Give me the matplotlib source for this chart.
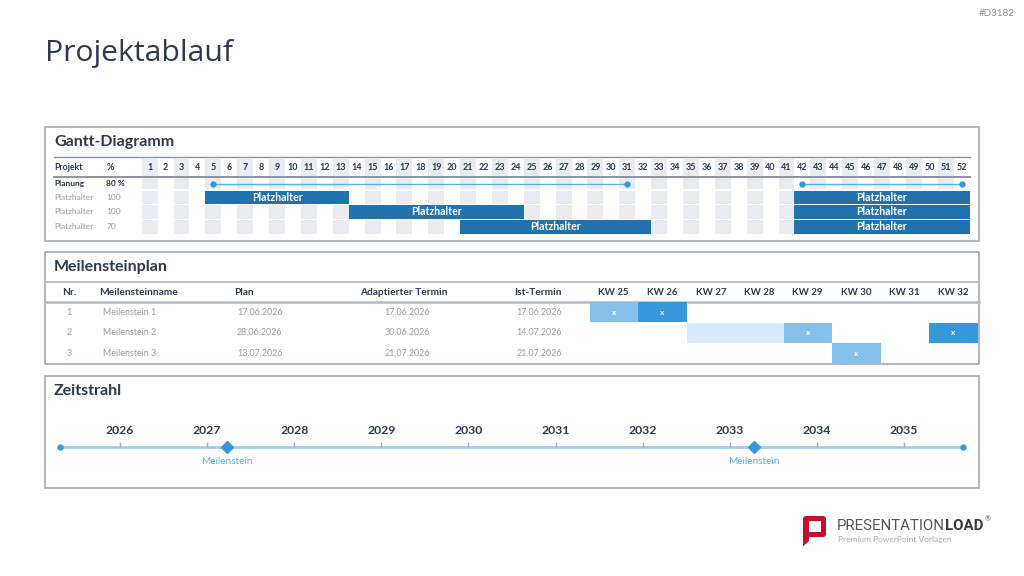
import matplotlib
matplotlib.use('Agg')
import matplotlib.pyplot as plt
from matplotlib.patches import Rectangle, FancyBboxPatch, Polygon

W, H = 1024, 576
plt.rcParams['font.family'] = ['Lato', 'DejaVu Sans']

# ---------------- data ----------------
weeks = list(range(1, 53))
gantt_names = ['Planung', 'Platzhalter', 'Platzhalter', 'Platzhalter']
gantt_pct = ['80 %', '100', '100', '70']
planung_start = [5, 42]
planung_end = [31, 52]
task_start = [[5, 42], [14, 42], [21, 42]]
task_end = [[13, 52], [24, 52], [32, 52]]
task_label = 'Platzhalter'

ms_nr = ['1', '2', '3']
ms_name = ['Meilenstein 1', 'Meilenstein 2', 'Meilenstein 3']
ms_plan = ['17.06.2026', '28.06.2026', '13.07.2026']
ms_adapt = ['17.06.2026', '30.06.2026', '21.07.2026']
ms_ist = ['17.06.2026', '14.07.2026', '21.07.2026']
kw_weeks = [25, 26, 27, 28, 29, 30, 31, 32]
cell_row = [0, 0, 1, 1, 1, 1, 2]
cell_kw = [25, 26, 27, 28, 29, 32, 30]
cell_level = ['light', 'dark', 'pale', 'pale', 'light', 'dark', 'light']

years = list(range(2026, 2036))
timeline_start = 2025.31
timeline_end = 2035.68
milestone_years = [2027.23, 2033.28]
milestone_label = 'Meilenstein'

# ---------------- style ----------------
DARK = '#2b3b4f'
GRAY = '#9a9a9a'
BORDER = '#a3aab5'
SHADE = '#e9edf2'
BAR = '#2272ae'
LBLUE = '#5dade2'
MBLUE = '#3498db'
CELL = {'light': '#85c1e9', 'dark': '#3498db', 'pale': '#d6eaf8'}
TL = '#9fcdee'

fig = plt.figure(figsize=(W / 100, H / 100), dpi=100)
bg = fig.add_axes([0, 0, 1, 1])
bg.set_xlim(0, W)
bg.set_ylim(H, 0)
bg.axis('off')


def px_axes(x0, y0, x1, y1):
    ax = fig.add_axes([x0 / W, 1 - y1 / H, (x1 - x0) / W, (y1 - y0) / H])
    ax.axis('off')
    return ax


bg.text(45, 54, 'Projektablauf', fontsize=21.7, color=DARK, va='center',
        family=['Open Sans', 'DejaVu Sans'])
bg.text(1015, 13, '#D3182', fontsize=7, color='#8a8a8a', ha='right', va='center')

for (y0, y1, title) in [(127, 241, 'Gantt-Diagramm'), (252, 364, 'Meilensteinplan'),
                        (376, 488, 'Zeitstrahl')]:
    bg.add_patch(Rectangle((45, y0), 934, y1 - y0, fc='white', ec=BORDER, lw=1.2, zorder=0))
    bg.text(54, y0 + 15, title, fontsize=11.5, weight='bold', color=DARK, va='center')

# ---------------- Gantt ----------------
gx = px_axes(45, 127, 979, 241)
gx.set_xlim(1 + (45 - 149.66) / 15.92, 1 + (979 - 149.66) / 15.92)
gx.set_ylim(241, 127)
bands = [(158, 175.5), (178, 189), (190.5, 204), (205, 218.5), (219.5, 233.5)]
for w in weeks:
    if w % 2 == 1:
        for (t, b) in bands:
            gx.add_patch(Rectangle((w - 0.5, t), 1, b - t, fc=SHADE, ec='none', zorder=1))
    gx.text(w, 167.5, str(w), ha='center', va='center', fontsize=6.5, weight='bold',
            color=DARK, zorder=3)
bg.plot([54, 970], [156.5, 156.5], color='#8d939c', lw=1.0)
bg.plot([54, 970], [176.8, 176.8], color='#8d939c', lw=1.4)
bg.text(54, 167.5, 'Projekt', fontsize=6.3, weight='bold', color=DARK, va='center')
bg.text(106.5, 167.5, '%', fontsize=6.3, weight='bold', color=DARK, va='center')
row_centers = [(t + b) / 2 for (t, b) in bands[1:]]
for i, (nm, pc) in enumerate(zip(gantt_names, gantt_pct)):
    col = DARK if i == 0 else GRAY
    wt = 'bold' if i == 0 else 'normal'
    bg.text(54, row_centers[i], nm, fontsize=6.0, color=col, weight=wt, va='center')
    bg.text(106.5, row_centers[i], pc, fontsize=6.0, color=col, weight=wt, va='center')

for s, e in zip(planung_start, planung_end):
    gx.plot([s, e], [row_centers[0]] * 2, color=LBLUE, lw=1.0, zorder=4)
    gx.plot([s, e], [row_centers[0]] * 2, 'o', ms=3.5, color=MBLUE, zorder=5)

for r, (starts, ends) in enumerate(zip(task_start, task_end)):
    t, b = bands[r + 2]
    for s, e in zip(starts, ends):
        gx.add_patch(Rectangle((s - 0.5, t), e - s + 1, b - t, fc=BAR, ec='none', zorder=4))
        gx.text((s + e) / 2, (t + b) / 2, task_label, ha='center', va='center',
                fontsize=7.6, weight='bold', color='white', zorder=5)

# ---------------- Meilensteinplan ----------------
bg.plot([45, 979], [281.7, 281.7], color='#b3b9c2', lw=1.2)
bg.plot([45, 979], [301.7, 301.7], color='#b3b9c2', lw=1.8)
tx = px_axes(45, 302, 979, 363.5)
tx.set_xlim(45, 979)
tx.set_ylim(3, 0)
hy = -0.47
hdr = [(69, 'Nr.', 'center'), (99, 'Meilensteinname', 'left'), (234, 'Plan', 'left'),
       (404, 'Adaptierter Termin', 'center'), (538, 'Ist-Termin', 'center')]
for x, s, ha in hdr:
    tx.text(x, hy, s, ha=ha, va='center', fontsize=7.3, weight='bold', color=DARK, clip_on=False)
for i in range(len(ms_nr)):
    y = i + 0.5
    kw = dict(va='center', fontsize=6.4, color=GRAY)
    tx.text(69, y, ms_nr[i], ha='center', **kw)
    tx.text(103, y, ms_name[i], ha='left', **kw)
    tx.text(237, y, ms_plan[i], ha='left', **kw)
    tx.text(407, y, ms_adapt[i], ha='center', **kw)
    tx.text(539, y, ms_ist[i], ha='center', **kw)

kx = px_axes(589.5, 302, 977.5, 363.5)
kx.set_xlim(24.5, 32.5)
kx.set_ylim(3, 0)
for k in kw_weeks:
    kx.text(k, hy, f'KW {k}', ha='center', va='center', fontsize=7.0, weight='bold',
            color=DARK, clip_on=False)
for r, k, lv in zip(cell_row, cell_kw, cell_level):
    kx.add_patch(Rectangle((k - 0.5, r + 0.02), 1, 0.96, fc=CELL[lv], ec='none', lw=0))
    if lv != 'pale':
        kx.text(k, r + 0.5, 'x', ha='center', va='center', fontsize=6, weight='bold',
                color='white')

# ---------------- Zeitstrahl ----------------
zx = px_axes(45, 376, 979, 488)
zx.set_xlim(2026 + (45 - 120) / 87.1, 2026 + (979 - 120) / 87.1)
zx.set_ylim(488, 376)
zx.plot([timeline_start, timeline_end], [447.3, 447.3], color=TL, lw=2, zorder=2)
zx.plot([timeline_start, timeline_end], [447.3, 447.3], 'o', ms=3.5, color=MBLUE, zorder=3)
zx.vlines(years, 442.3, 447.3, color='#7fb9e3', lw=1.0, zorder=2)
for yr in years:
    zx.text(yr, 431, str(yr), ha='center', va='center', fontsize=8.8, weight='bold', color=DARK)
zx.plot(milestone_years, [447.3] * len(milestone_years), 'D', ms=6.5, color=MBLUE, zorder=4)
for m in milestone_years:
    zx.text(m, 461.5, milestone_label, ha='center', va='center', fontsize=7.2, color=LBLUE)

# ---------------- Logo ----------------
RED = '#c8102e'
bg.add_patch(FancyBboxPatch((803, 516), 23, 21, boxstyle='round,pad=0,rounding_size=3',
                            fc=RED, ec='none'))
bg.add_patch(Polygon([(803, 530), (809, 530), (809, 541), (803, 546.5)], closed=True,
                     fc=RED, ec='none'))
bg.add_patch(Rectangle((808.5, 521), 12, 10.5, fc='white', ec='none'))
t1 = bg.text(837, 526, 'PRESENTATION', fontsize=10.8, color='#555555', va='center',
             family=['Roboto', 'DejaVu Sans'])
fig.canvas.draw()
bb = t1.get_window_extent()
t2 = bg.text(bb.x1, 526, 'LOAD', fontsize=10.8, color='#3a3a3a', va='center', weight='bold',
             family=['Roboto', 'DejaVu Sans'])
fig.canvas.draw()
bb2 = t2.get_window_extent()
bg.text(bb2.x1 + 1, 519, '®', fontsize=5, color='#555555', va='center')
bg.text(838, 539.5, 'Premium PowerPoint Vorlagen', fontsize=6, color='#a8a8a8', va='center')

fig.savefig('out.png', dpi=100)
